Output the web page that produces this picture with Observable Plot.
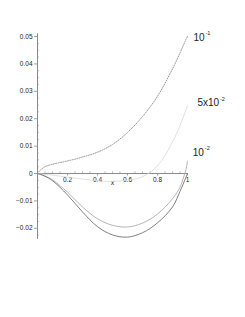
<!DOCTYPE html>
<html>
<head>
<meta charset="utf-8">
<script src="https://cdn.jsdelivr.net/npm/d3@7"></script>
<script src="https://cdn.jsdelivr.net/npm/@observablehq/plot@0.6"></script>
<style>
  html, body { margin: 0; padding: 0; background: #fff; }
  #chart svg { display: block; }
</style>
</head>
<body>
<div id="chart"></div>
<script>
// x sample positions
const xs = [0, 0.02, 0.05, 0.1, 0.2, 0.3, 0.4, 0.5, 0.6, 0.7, 0.8, 0.9, 0.95, 0.97, 0.99, 1];
// epsilon = 1e-1 (dotted)
const c1 = [0, 0.0013, 0.0025, 0.0034, 0.0046, 0.0060, 0.0078, 0.0106, 0.0150, 0.0208, 0.0282, 0.0382, 0.0440, 0.0465, 0.0490, 0.0500];
// epsilon = 5e-2 (very light)
const c2 = [0, -0.0001, -0.0003, -0.0006, -0.0013, -0.0020, -0.0026, -0.0029, -0.0024, -0.0012, 0.0028, 0.0115, 0.0175, 0.0203, 0.0233, 0.0248];
// epsilon = 1e-2 (light gray)
const c3 = [0, -0.0003, -0.0009, -0.0023, -0.0068, -0.0122, -0.0165, -0.0189, -0.0195, -0.0181, -0.0148, -0.0092, -0.0050, -0.0020, 0.0015, 0.0045];
// limit curve (dark)
const c4 = [0, -0.0003, -0.0010, -0.0026, -0.0078, -0.0140, -0.0194, -0.0224, -0.0232, -0.0216, -0.0180, -0.0122, -0.0065, -0.0040, -0.0013, 0.0];

const xTicks = [0.2, 0.4, 0.6, 0.8, 1];
const xTickLabels = ["0.2", "0.4", "0.6", "0.8", "1"];
const xMinor = [0.05, 0.1, 0.15, 0.25, 0.3, 0.35, 0.45, 0.5, 0.55, 0.65, 0.7, 0.75, 0.85, 0.9, 0.95];
const yTicks = [0.05, 0.04, 0.03, 0.02, 0.01, 0, -0.01, -0.02];
const yTickLabels = ["0.05", "0.04", "0.03", "0.02", "0.01", "0", "\u22120.01", "\u22120.02"];
const yMinor = [0.0475,0.045,0.0425,0.0375,0.035,0.0325,0.0275,0.025,0.0225,0.0175,0.015,0.0125,0.0075,0.005,0.0025,-0.0025,-0.005,-0.0075,-0.0125,-0.015,-0.0175,-0.0225];

const curveLabels = ["10", "5x10", "10"];
const curveExps = ["-1", "-2", "-2"];
const labelY = [0.0500, 0.0248, 0.0045];

const yMin = -0.024, yMax = 0.051;
const axisColor = "#8a8a8a";

const chart = Plot.plot({
  width: 245,
  height: 317,
  style: { fontFamily: "'Liberation Sans', Arial, sans-serif", background: "#fff", color: "#222" },
  x: { domain: [0, 1], range: [37, 187], axis: null },
  y: { domain: [yMin, yMax], range: [238.8, 33.3], axis: null },
  marks: [
    Plot.ruleY([0], { x1: 0, x2: 1, stroke: axisColor, strokeWidth: 1 }),
    Plot.ruleX([0], { y1: yMin, y2: yMax, stroke: axisColor, strokeWidth: 1 }),
    Plot.ruleY(yTicks, { y: d => d, x1: 0, x2: -0.02, stroke: axisColor, strokeWidth: 0.8 }),
    Plot.ruleY(yMinor, { y: d => d, x1: 0, x2: 0.012, stroke: axisColor, strokeWidth: 0.6 }),
    Plot.ruleX(xTicks, { x: d => d, y1: 0, y2: -0.0009, stroke: axisColor, strokeWidth: 0.8 }),
    Plot.ruleX(xMinor, { x: d => d, y1: 0, y2: 0.0006, stroke: axisColor, strokeWidth: 0.6 }),
    Plot.text(yTicks, { x: 0, y: d => d, text: (d, i) => yTickLabels[i], dx: -5, textAnchor: "end", fontSize: 6.5, fill: "#222" }),
    Plot.text(xTicks, { x: d => d, y: 0, text: (d, i) => xTickLabels[i], dy: 6, fontSize: 6.5, fill: "#222" }),
    Plot.text(["x"], { x: 0.5, y: 0, text: d => d, dy: 9, fontSize: 7, fill: "#222" }),
    Plot.line(xs, { x: xs, y: c2, stroke: "#d8d8d8", strokeWidth: 0.8, curve: "catmull-rom" }),
    Plot.line(xs, { x: xs, y: c3, stroke: "#ababab", strokeWidth: 0.9, curve: "catmull-rom" }),
    Plot.line(xs, { x: xs, y: c4, stroke: "#727272", strokeWidth: 0.9, curve: "catmull-rom" }),
    Plot.line(xs, { x: xs, y: c1, stroke: "#8a8a8a", strokeWidth: 0.9, strokeDasharray: "1,1.4", curve: "catmull-rom" }),
    // curve labels
    Plot.text([0], { x: 1, y: labelY[0], text: [curveLabels[0]], dx: 6, dy: 1, textAnchor: "start", fontSize: 10, fill: "#222" }),
    Plot.text([0], { x: 1, y: labelY[0], text: [curveExps[0]], dx: 18, dy: -3, textAnchor: "start", fontSize: 5.5, fill: "#222" }),
    Plot.text([0], { x: 1, y: labelY[1], text: [curveLabels[1]], dx: 10, dy: -2.5, textAnchor: "start", fontSize: 10, fill: "#222" }),
    Plot.text([0], { x: 1, y: labelY[1], text: [curveExps[1]], dx: 32.5, dy: -6.5, textAnchor: "start", fontSize: 5.5, fill: "#222" }),
    Plot.text([0], { x: 1, y: labelY[2], text: [curveLabels[2]], dx: 5.3, dy: -8.7, textAnchor: "start", fontSize: 10, fill: "#222" }),
    Plot.text([0], { x: 1, y: labelY[2], text: [curveExps[2]], dx: 17.3, dy: -13, textAnchor: "start", fontSize: 5.5, fill: "#222" })
  ]
});
document.getElementById("chart").appendChild(chart);
</script>
</body>
</html>
